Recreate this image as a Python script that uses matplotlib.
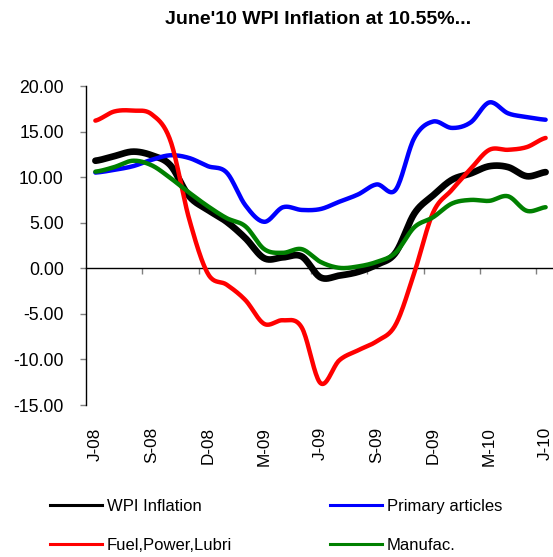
import numpy as np
import matplotlib
matplotlib.use("Agg")
import matplotlib.pyplot as plt
from matplotlib.ticker import FixedLocator, FuncFormatter

plt.rcParams['font.family'] = ['Liberation Sans', 'DejaVu Sans']
plt.rcParams['axes.unicode_minus'] = False

# ---- data (Jun-08 .. Jun-10, monthly) ----
tick_labels = ['J-08', 'S-08', 'D-08', 'M-09', 'J-09', 'S-09', 'D-09', 'M-10', 'J-10']
wpi = [11.8, 12.3, 12.8, 12.4, 11.3, 7.9, 6.4, 5.1, 3.3, 1.1, 1.2, 1.3, -1.0,
       -0.8, -0.4, 0.4, 1.7, 6.0, 8.0, 9.7, 10.4, 11.2, 11.1, 10.1, 10.55]
primary = [10.5, 10.8, 11.2, 11.9, 12.4, 12.1, 11.2, 10.5, 6.9, 5.1, 6.7, 6.4, 6.5,
           7.3, 8.1, 9.2, 8.6, 14.3, 16.1, 15.4, 16.0, 18.2, 17.0, 16.6, 16.3]
fuel = [16.2, 17.2, 17.3, 16.9, 14.0, 5.4, -0.6, -1.8, -3.5, -6.1, -5.7, -6.5, -12.6,
        -10.1, -9.0, -8.0, -6.2, -0.5, 6.1, 8.6, 10.9, 13.0, 13.0, 13.3, 14.3]
manufac = [10.6, 11.1, 11.8, 11.3, 9.9, 8.3, 6.8, 5.5, 4.6, 2.1, 1.7, 2.1, 0.7,
           0.05, 0.2, 0.7, 1.7, 4.5, 5.6, 7.1, 7.5, 7.4, 7.9, 6.3, 6.7]
series_names = ['WPI Inflation', 'Primary articles', 'Fuel,Power,Lubri', 'Manufac.']
yticks = [20, 15, 10, 5, 0, -5, -10, -15]


def smooth(y, n=20):
    """Catmull-Rom curve through the points (like a smoothed line)."""
    y = np.asarray(y, float)
    x = np.arange(len(y), dtype=float)
    P = np.concatenate([[y[0]], y, [y[-1]]])
    xs, ys = [], []
    t = np.linspace(0, 1, n, endpoint=False)
    for i in range(len(y) - 1):
        p0, p1, p2, p3 = P[i], P[i + 1], P[i + 2], P[i + 3]
        yy = 0.5 * ((2 * p1) + (-p0 + p2) * t + (2 * p0 - 5 * p1 + 4 * p2 - p3) * t ** 2
                    + (-p0 + 3 * p1 - 3 * p2 + p3) * t ** 3)
        xs.append(x[i] + t)
        ys.append(yy)
    xs.append([x[-1]])
    ys.append([y[-1]])
    return np.concatenate(xs), np.concatenate(ys)


W, H = 553, 557
fig = plt.figure(figsize=(W / 100, H / 100), dpi=100)
ax = fig.add_axes([86 / W, 1 - 405 / H, (555 - 86) / W, (405 - 86) / H])

n = len(wpi)
styles = [(wpi, '#000000', 4.8), (primary, '#0000FF', 3.2),
          (fuel, '#FF0000', 3.2), (manufac, '#008000', 3.2)]
handles = []
for (vals, col, lw), name in zip(styles, series_names):
    xs, ys = smooth(vals)
    ax.plot(xs, ys, color=col, lw=lw, solid_capstyle='round', solid_joinstyle='round', zorder=3)
    h, = ax.plot([], [], color=col, lw=2.2, label=name)
    handles.append(h)

ax.set_xlim(-0.5, n - 0.5)
ax.set_ylim(-15, 20)

for s in ['top', 'right']:
    ax.spines[s].set_visible(False)
ax.spines['bottom'].set_position(('data', 0))
ax.spines['bottom'].set_linewidth(1.0)
ax.spines['left'].set_linewidth(1.0)

# y axis
ax.yaxis.set_major_locator(FixedLocator(yticks))
ax.yaxis.set_major_formatter(FuncFormatter(lambda v, p: f"{v:.2f}"))
ax.tick_params(axis='y', length=4.5, width=1, color='#808080', pad=11.5,
               labelsize=12.7, labelcolor='#000000')

# x axis: tick marks on zero line every 3 months, labels at the bottom
ax.xaxis.set_major_locator(FixedLocator(np.arange(2.5, n - 1, 3)))
ax.tick_params(axis='x', which='major', length=4, width=1, color='#808080',
               direction='out', labelbottom=False)

sec = ax.secondary_xaxis('bottom')
sec.spines['bottom'].set_visible(False)
sec.xaxis.set_major_locator(FixedLocator(np.arange(0, n, 3)))
sec.set_xticklabels(tick_labels, rotation=90, fontsize=12.3)
sec.tick_params(axis='x', length=0, pad=16)

fig.text(318 / W, 1 - 19 / H, "June'10 WPI Inflation at 10.55%...", ha='center', va='center',
         fontsize=14, fontweight='bold')

order = [handles[0], handles[2], handles[1], handles[3]]
fig.legend(order, [h.get_label() for h in order], ncol=2, frameon=False,
           loc='upper left', bbox_to_anchor=(50 / W, 1 - 499 / H), borderpad=0,
           borderaxespad=0, handlelength=3.1, handletextpad=0.3, columnspacing=5.9,
           labelspacing=1.45, fontsize=12)

fig.savefig('out.png', dpi=100)
